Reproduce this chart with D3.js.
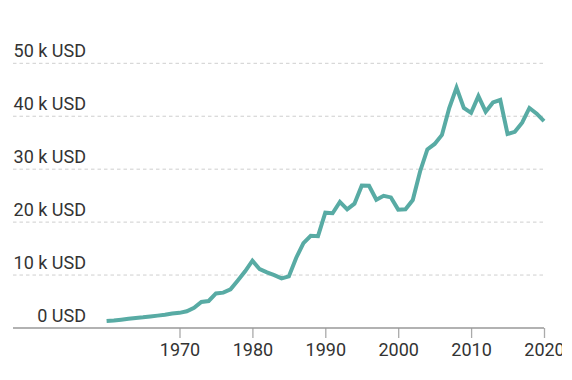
<!DOCTYPE html>
<html>
<head>
<meta charset="utf-8">
<script src="https://cdn.jsdelivr.net/npm/d3@7"></script>
<style>
  html, body { margin: 0; padding: 0; background: #fff; }
  svg { display: block; overflow: hidden; }
  text { font-family: Roboto, "Noto Sans", sans-serif; }
</style>
</head>
<body>
<div id="chart"></div>
<script>
const years = d3.range(1960, 2021);
const values = [
  1.33, 1.43, 1.57, 1.73, 1.90, 2.02, 2.18, 2.34, 2.51, 2.73,
  2.86, 3.16, 3.81, 4.92, 5.10, 6.53, 6.68, 7.31, 8.98, 10.71,
  12.71, 11.11, 10.50, 9.99, 9.38, 9.75, 13.23, 16.03, 17.43, 17.34,
  21.79, 21.68, 23.81, 22.40, 23.49, 26.89, 26.87, 24.23, 24.97, 24.67,
  22.36, 22.43, 24.18, 29.57, 33.74, 34.76, 36.47, 41.56, 45.41, 41.58,
  40.64, 43.79, 40.87, 42.60, 43.07, 36.65, 37.06, 38.78, 41.56, 40.49,
  39.06
];
const yTicks = [0, 10, 20, 30, 40, 50];
const yTickLabels = ["0 USD", "10 k USD", "20 k USD", "30 k USD", "40 k USD", "50 k USD"];
const xTicks = [1970, 1980, 1990, 2000, 2010, 2020];

const data = years.map((yr, i) => ({ year: yr, value: values[i] }));

const W = 562, H = 380;
const mLeft = 13, mRight = 544, mTop = 63.3, mBottom = 328;

const svg = d3.select("#chart").append("svg").attr("width", W).attr("height", H);

const x = d3.scaleLinear().domain([1960, 2020]).range([106.6, 544]);
const y = d3.scaleLinear().domain([0, 50]).range([mBottom, mTop]);

// grid lines
svg.append("g").selectAll("line")
  .data(yTicks.filter(d => d > 0))
  .join("line")
  .attr("x1", mLeft).attr("x2", mRight)
  .attr("y1", d => y(d)).attr("y2", d => y(d))
  .attr("stroke", "#cfcfcf").attr("stroke-width", 1)
  .attr("stroke-dasharray", "3.5,3");

// y labels
svg.append("g").selectAll("text")
  .data(yTicks)
  .join("text")
  .attr("x", 86).attr("y", d => y(d) - 6)
  .attr("text-anchor", "end")
  .attr("font-size", 18)
  .attr("fill", "#333")
  .text((d, i) => yTickLabels[i]);

// x axis
const xAxis = d3.axisBottom(x).tickValues(xTicks).tickFormat(d3.format("d")).tickSize(10).tickPadding(5);
const gx = svg.append("g").attr("transform", `translate(0,${mBottom})`).call(xAxis);
gx.select(".domain").remove();
gx.selectAll(".tick line").attr("stroke", "#aaa").attr("stroke-width", 1.3);
gx.selectAll(".tick text").attr("font-size", 18).attr("fill", "#333")
  .attr("font-family", "Roboto, 'Noto Sans', sans-serif");
svg.append("line")
  .attr("x1", mLeft).attr("x2", mRight)
  .attr("y1", mBottom).attr("y2", mBottom)
  .attr("stroke", "#999").attr("stroke-width", 1.5);

// line
const line = d3.line().x(d => x(d.year)).y(d => y(d.value));
svg.append("path")
  .datum(data)
  .attr("fill", "none")
  .attr("stroke", "#58aba4")
  .attr("stroke-width", 4)
  .attr("d", line);
</script>
</body>
</html>
